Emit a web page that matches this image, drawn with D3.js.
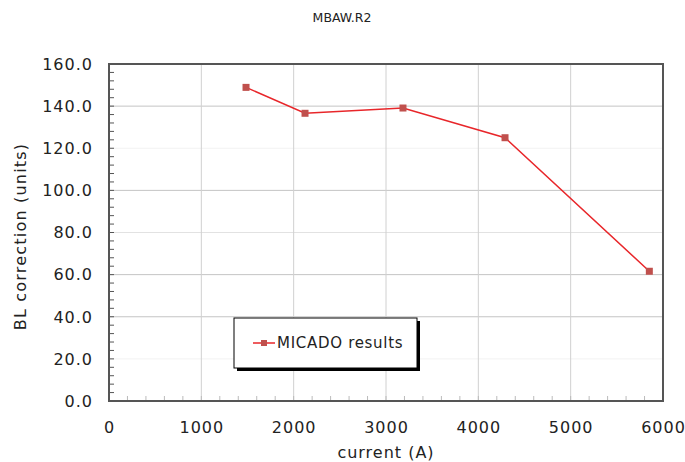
<!DOCTYPE html>
<html>
<head>
<meta charset="utf-8">
<script src="https://cdn.jsdelivr.net/npm/d3@7"></script>
<style>
	body { margin: 0; background: #fff; }
	svg text { font-family: "DejaVu Sans", Verdana, sans-serif; fill: #222; }
</style>
</head>
<body>
<div id="chart"></div>
<script>
// values
const currents = [1484, 2123, 3184, 4289, 5852];
const corrections = [148.9, 136.6, 139.1, 125.0, 61.6];
const xTicks = [0, 1000, 2000, 3000, 4000, 5000, 6000];
const yTicks = [0, 20, 40, 60, 80, 100, 120, 140, 160];
const seriesName = "MICADO results";

const width = 685, height = 462;
const margin = {top: 64, right: 22, bottom: 61, left: 109};

const svg = d3.select("#chart").append("svg")
	.attr("width", width)
	.attr("height", height);

const x = d3.scaleLinear()
	.domain([0, 6000])
	.range([margin.left, width - margin.right]);

const y = d3.scaleLinear()
	.domain([0, 160])
	.range([height - margin.bottom, margin.top]);

// gridlines (some come out faint in the original raster)
const gridColor = v => (v == 20 || v == 120) ? "#f2f2f2" : (v == 80 ? "#e2e2e2" : "#c4c4c4");

svg.append("g")
	.selectAll("line")
	.data(yTicks.filter(v => v > 0 && v < 160))
	.join("line")
	.attr("x1", x(0)).attr("x2", x(6000))
	.attr("y1", d => y(d)).attr("y2", d => y(d))
	.attr("stroke", d => gridColor(d));

svg.append("g")
	.selectAll("line")
	.data(xTicks.filter(v => v > 0 && v < 6000))
	.join("line")
	.attr("y1", y(0)).attr("y2", y(160))
	.attr("x1", d => x(d)).attr("x2", d => x(d))
	.attr("stroke", "#d0d0d0");

// minor ticks, pointing inward
svg.append("g")
	.selectAll("line")
	.data(d3.range(4, 160, 4))
	.join("line")
	.attr("x1", x(0)).attr("x2", x(0) + 5)
	.attr("y1", d => y(d)).attr("y2", d => y(d))
	.attr("stroke", "#555");

svg.append("g")
	.selectAll("line")
	.data(d3.range(200, 6000, 200))
	.join("line")
	.attr("y1", y(0)).attr("y2", y(0) - 5)
	.attr("x1", d => x(d)).attr("x2", d => x(d))
	.attr("stroke", "#bbb");

// frame
svg.append("rect")
	.attr("x", x(0)).attr("y", y(160))
	.attr("width", x(6000) - x(0))
	.attr("height", y(0) - y(160))
	.attr("fill", "none")
	.attr("stroke", "#555")
	.attr("stroke-width", 2);

// tick labels
svg.append("g")
	.selectAll("text")
	.data(yTicks)
	.join("text")
	.attr("x", x(0) - 16)
	.attr("y", d => y(d))
	.attr("dy", "0.36em")
	.attr("text-anchor", "end")
	.style("font-size", "16px")
	.style("letter-spacing", "1px")
	.text(d => d3.format(".1f")(d));

svg.append("g")
	.selectAll("text")
	.data(xTicks)
	.join("text")
	.attr("x", d => x(d) + 0.5)
	.attr("y", y(0) + 32)
	.attr("text-anchor", "middle")
	.style("font-size", "16px")
	.style("letter-spacing", "1px")
	.text(d => d);

// titles
svg.append("text")
	.attr("x", 342).attr("y", 22)
	.attr("text-anchor", "middle")
	.style("font-size", "12.5px")
	.text("MBAW.R2");

svg.append("text")
	.attr("x", (x(0) + x(6000)) / 2)
	.attr("y", 458)
	.attr("text-anchor", "middle")
	.style("font-size", "16px")
	.style("letter-spacing", "1px")
	.text("current (A)");

svg.append("text")
	.attr("transform", `translate(26,${(y(0) + y(160)) / 2 + 4}) rotate(-90)`)
	.attr("text-anchor", "middle")
	.style("font-size", "16px")
	.style("letter-spacing", "1.2px")
	.text("BL correction (units)");

// series
const data = currents.map((c, i) => ({current: c, value: corrections[i]}));

const line = d3.line()
	.x(d => x(d.current))
	.y(d => y(d.value));

svg.append("path")
	.datum(data)
	.attr("d", line)
	.attr("fill", "none")
	.attr("stroke", "#e8262a")
	.attr("stroke-width", 1.5);

svg.append("g")
	.selectAll("rect")
	.data(data)
	.join("rect")
	.attr("x", d => x(d.current) - 3.5)
	.attr("y", d => y(d.value) - 3.5)
	.attr("width", 7).attr("height", 7)
	.attr("fill", "#c0504d");

// legend
const legend = svg.append("g").attr("transform", "translate(234,318)");
legend.append("rect")
	.attr("x", 3).attr("y", 3)
	.attr("width", 183).attr("height", 50)
	.attr("fill", "#000");
legend.append("rect")
	.attr("width", 183).attr("height", 50)
	.attr("fill", "#fff")
	.attr("stroke", "#000");
legend.append("line")
	.attr("x1", 19).attr("x2", 41)
	.attr("y1", 25).attr("y2", 25)
	.attr("stroke", "#e8262a")
	.attr("stroke-width", 1.5);
legend.append("rect")
	.attr("x", 27).attr("y", 22)
	.attr("width", 6).attr("height", 6)
	.attr("fill", "#c0504d");
legend.append("text")
	.attr("x", 43).attr("y", 25)
	.attr("dy", "0.36em")
	.style("font-size", "15px")
	.style("letter-spacing", "0.7px")
	.text(seriesName);
</script>
</body>
</html>
